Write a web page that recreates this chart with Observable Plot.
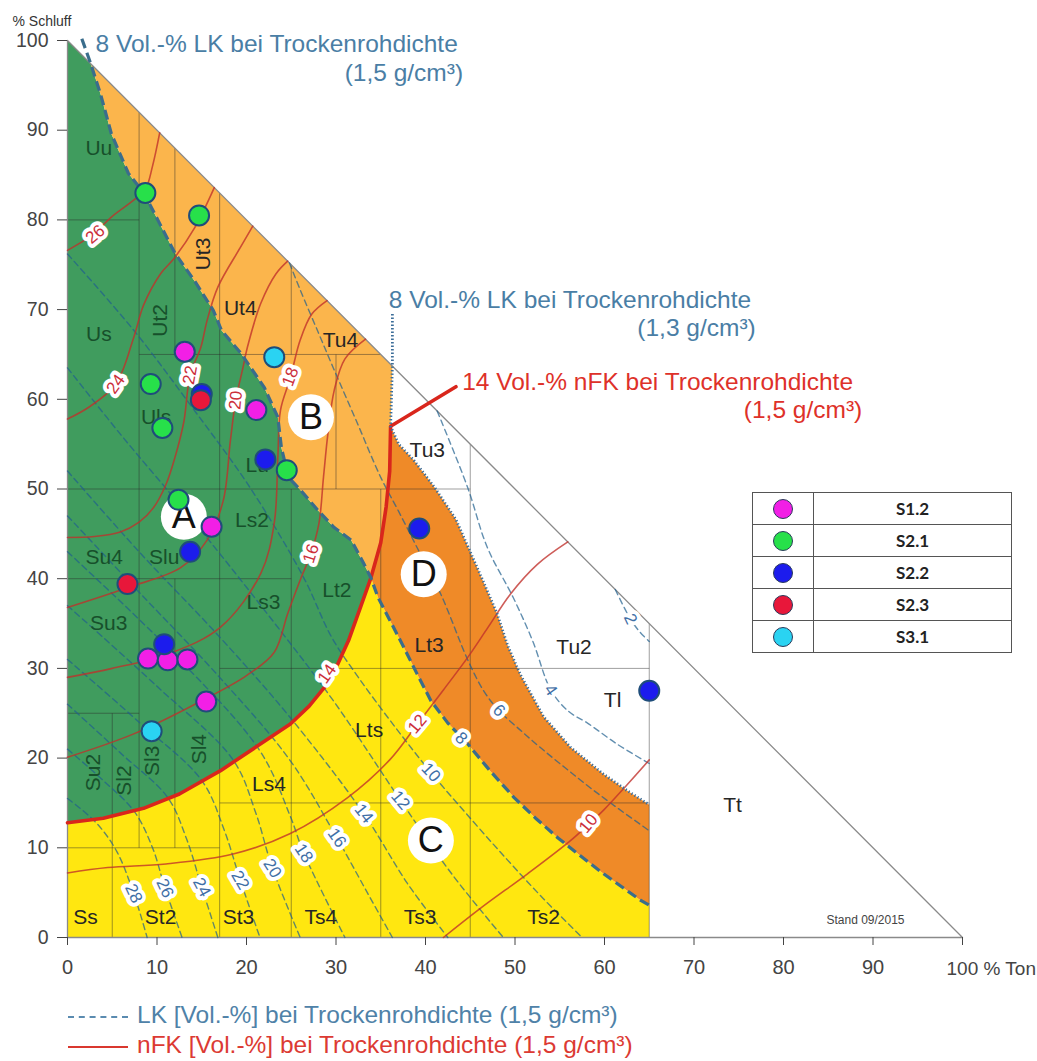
<!DOCTYPE html>
<html><head><meta charset="utf-8">
<script src="https://cdn.jsdelivr.net/npm/d3@7"></script>
<script src="https://cdn.jsdelivr.net/npm/@observablehq/plot@0.6"></script>
<style>
body{margin:0;background:#fff;font-family:"Liberation Sans",Arial,sans-serif;}
#wrap{position:relative;width:1037px;height:1061px;overflow:hidden;}
#legend{position:absolute;left:752px;top:492px;border-collapse:collapse;width:260px;background:#fff;}
#legend td{border:1px solid #555;height:31px;padding:0;}
#legend td.sw{width:60px;text-align:center;}
#legend td.lb{text-align:center;font-weight:bold;font-size:17px;font-family:Lato,"Open Sans",sans-serif;color:#222;}
.sym{display:inline-block;width:20px;height:20px;border-radius:50%;border:1px solid #2a3a5a;vertical-align:middle;box-sizing:border-box;}
#foot{padding-left:68px;font-size:24.5px;}
.row{height:30px;line-height:30px;white-space:nowrap;}
.smp{display:inline-block;width:60px;vertical-align:middle;margin-right:9px;}
</style></head><body>
<div id="wrap"><div id="chart"></div><table id="legend"></table><div id="foot"></div></div>
<script>
// ---------------- data ----------------
const xTicks = [0,10,20,30,40,50,60,70,80,90,100];
const yTicks = [0,10,20,30,40,50,60,70,80,90,100];
const triangle = [[0,0],[100,0],[0,100],[0,0]];
const cornerTopLeft = [0,100];
const cornerOrigin = [0,0];
const cornerSandTon = [65,0];
const cornerHypDotted = [36.3,63.7];

// soil texture grid (x1,y1,x2,y2) : Ton, Schluff
const gridSegments = [
  [0,10,17,10],[17,15,65,15],[0,25,8,25],[17,30,65,30],[0,40,25,40],[0,50,45,50],[8,65,35,65],[0,80,8,80],
  [5,0,5,25],[8,10,8,92],[12,10,12,40],[12,65,12,88],[17,0,17,83],[25,0,25,50],[25,65,25,75],
  [30,50,30,65],[35,0,35,50],[45,0,45,55],[65,0,65,35]
];

// boundaries
const lk8Lead = [[1.6,100.2],[2.6,97.4]];
const lk8Upper = [[2.6,97.4],[3.7,94],[4.9,89.6],[6.8,85.2],[8.6,82.9],[10.5,79.2],[12,76.3],[14.2,73.2],[16.3,69.9],[17.2,67.7],[19.4,65.1],[22,61.3],[23.5,58],[23.9,54.6],[24.7,51.3],[26.1,49.8],[28,47.6],[29.8,45.7],[31.7,44.3],[33.1,41.7],[33.9,40.1]];
const lk8Lower = [[33.9,40.1],[34.7,37.9],[36,35.4],[37.5,32.5],[39,29.5],[40.6,26.4],[42.5,23.9],[44.7,21.6],[47.2,18.6],[49.9,15.6],[52.3,13.3],[54.8,11.1],[57.3,9.1],[59.9,7.1],[62,5.6],[64.1,4.1],[65,3.6]];
const nfk14Lower = [[0,12.8],[4,13.3],[8.5,14.4],[12.5,16],[17.1,18.6],[21,21.2],[24.9,23.8],[27,25.8],[28.8,28],[30.2,30.5],[31.4,33.1],[32.8,37],[33.9,40.1]];
const nfk14Upper = [[33.9,40.1],[35,44],[35.6,48],[36,52],[36.1,57]];
const nfk14Leader = [[36.1,57],[43.4,61.4]];
const dotted13 = [[36.3,69.5],[36.3,63.7],[36.1,57],[37,55],[38.7,53.2],[41,50.2],[43.4,46.6],[46.1,40.5],[48,36.1],[49.2,32.5],[50.6,29.3],[53.2,24.6],[56.2,21.2],[59.9,18.2],[62.5,16.4],[65,14.8]];

// nFK isolines (solid)
const nfk26 = [[0,76.6],[2,77.8],[3.1,78.6],[5,80.4],[7.4,82.2],[8.7,83.4],[9.5,86],[10.3,89.7]];
const nfk24 = [[0,57.8],[2.5,59.2],[5.4,61.7],[7.4,66.9],[8.5,70.5],[10.4,74],[11.9,75.7],[14.2,79.1],[16.4,83.6]];
const nfk22 = [[0,44.6],[3,44.7],[5.9,45.2],[8,46.3],[9.6,47.9],[11,50.5],[12,53.5],[13,57.5],[13.7,62.7],[14.9,65.8],[15.6,68.8],[16.8,72.5],[19.3,76.9],[20.7,79.3]];
const nfk20 = [[0,36.8],[6.7,39],[12.6,41.2],[15.6,44.3],[17.4,48.7],[18.2,55.4],[18.8,59.9],[19.6,63.5],[20.1,65.8],[21.6,70.7],[23.3,74],[24.6,75.4]];
const nfk18 = [[0,29],[5,30],[11.5,31.7],[17.1,34.6],[21.6,40.6],[23.1,46.2],[23.5,53.5],[23.8,58.8],[24.9,62.4],[26,66.6],[27.3,69.5],[29,71]];
const nfk16 = [[0,20.1],[7.4,22.7],[15,26.4],[20,29.2],[23.1,31.8],[24.6,36.1],[26.1,40.1],[27.2,42.8],[28.1,46.2],[28.6,51.3],[29.1,56.2],[29.8,61],[31,64.5],[33.3,66.7]];
const nfk12 = [[0,7.2],[4.5,7.8],[11,8.2],[18.5,9.3],[24.9,11.6],[31.3,15.6],[36,19.8],[39.1,23.8],[42,27.6],[44.7,31.2],[47,34.6],[49.5,38.3],[52.5,41.6],[55.9,44.1]];
const nfk10 = [[42,0],[46.2,3.3],[51.4,7.1],[56.2,10.8],[58.2,12.6],[59.9,14.2],[62.5,17],[65,19.8]];

// LK isolines (dashed)
const lk28 = [[0,15.5],[3.2,12.8],[5.5,9.6],[7.4,4.9],[8.9,0]];
const lk26 = [[0,21],[4,17.5],[7.5,14],[9.5,10],[10.9,5.5],[12.8,0]];
const lk24 = [[0,26],[6,20.5],[11.2,15.6],[13.3,11],[15,5.6],[16.8,0]];
const lk22 = [[0,31],[8,24],[15,17.5],[17.5,12],[19.3,6.4],[21.5,0]];
const lk20 = [[0,37],[10,28],[18.5,19.8],[21,14],[22.9,7.7],[26,0]];
const lk18 = [[0,43],[12,31.5],[21.5,20.8],[24.9,13.5],[26.4,9.4],[31,0]];
const lk16 = [[0,47],[8,38.5],[17,29],[24.9,19.7],[30.1,11.1],[33.5,5],[36.3,0]];
const lk14 = [[0,52],[8,43],[17,33.5],[24.9,24.5],[33.1,13.8],[38,6],[42.5,0]];
const lk12 = [[0,63.5],[6,56],[14,46.5],[22,36.5],[29.7,26.4],[37.2,15.3],[43,7],[48.7,0]];
const lk10 = [[0,76.2],[7.4,67.7],[14,59],[20.5,50],[26.4,40.1],[29.5,33.5],[32.5,29],[36.5,23.6],[40.6,18.4],[45,13.3],[49.2,8.6],[53.2,4.3],[57.5,0]];
const lk6 = [[24.8,75.2],[26,72.2],[28,67.5],[29.7,63.5],[32.4,57.3],[35,51.3],[37,47.5],[39.3,43],[41.7,38.3],[44.7,31],[46.5,27.5],[48.2,25.3],[50.5,23.2],[52.8,21.2],[55.5,19],[58.4,16.7],[61.5,14.4],[65,11.9]];
const lk4 = [[41.3,58.7],[44.7,50.2],[46.9,43.5],[49.8,37.9],[52,33],[54,27.6],[56,25.2],[58.1,23.9],[61.5,21.5],[65,19.4]];
const lk2 = [[61.2,38.8],[62.9,35.5],[64,34],[65,33]];

// isoline labels
const lkLabelValues = [28,26,24,22,20,18,16,14,12,10,8,6,4,2];
const lkLabelX = [7.4,10.9,15,19.3,22.9,26.4,30.1,33.1,37.2,40.6,44,48.2,54,62.9];
const lkLabelY = [4.9,5.5,5.6,6.4,7.7,9.4,11.1,13.8,15.3,18.4,22.2,25.3,27.6,35.5];
const lkLabelRotate = [65,65,62,60,58,56,55,52,50,47,45,45,55,65];
const nfkLabelValues = [26,24,22,20,18,16,14,12,10];
const nfkLabelX = [3.1,5.4,13.7,18.8,24.9,27.2,29,39.1,58.2];
const nfkLabelY = [78.4,61.7,62.7,59.9,62.5,42.8,29.4,23.8,12.7];
const nfkLabelRotate = [-40,-55,-80,-85,-70,-72,-55,-50,-50];

// soil texture class labels
const greenClassNames = ["Uu","Us","Ut2","Uls","Lu","Ls2","Slu","Su4","Su3","Ls3","Lt2","Su2","Sl2","Sl3","Sl4"];
const greenClassX = [3.5,3.5,10.4,8.2,19.9,20.6,10.8,4.1,4.6,21.9,30.1,2.9,6.3,9.5,14.7];
const greenClassY = [88,67.3,68.8,58,52.6,46.5,42.4,42.4,35,37.4,38.7,18.4,17.5,19.7,21];
const greenClassRotate = [0,0,-90,0,0,0,0,0,0,0,0,-90,-90,-90,-90];
const greenClassAnchor = ["middle","middle","middle","start","start","middle","middle","middle","middle","middle","middle","middle","middle","middle","middle"];
const otherClassNames = ["Ut3","Ut4","Tu4","Tu3","Lt3","Tu2","Tl","Tt","Lts","Ls4","Ss","St2","St3","Ts4","Ts3","Ts2"];
const otherClassX = [15.2,19.3,30.5,40.2,40.4,56.6,60.9,74.3,33.7,22.5,2,10.4,19.1,28.3,39.4,53.2];
const otherClassY = [76.2,70.2,66.6,54.3,32.6,32.4,26.4,14.7,23.1,17.1,2.3,2.3,2.3,2.3,2.3,2.3];
const otherClassRotate = [-90,0,0,0,0,0,0,0,0,0,0,0,0,0,0,0];

// zones
const zoneNames = ["A","B","C","D"];
const zoneX = [13,27.2,40.6,39.8];
const zoneY = [46.9,58,10.8,40.5];

// samples (Ton %, Schluff %)
const sampleNames = ["S1.2","S2.1","S2.2","S2.3","S3.1"];
const sampleColors = ["#f21fe6","#27e04a","#1c1ced","#e8173a","#2ad3f2"];
const s12 = [[13.1,65.3],[21.1,58.8],[16.1,45.8],[9,31.1],[11.2,30.9],[13.4,31],[15.5,26.3]];
const s21 = [[8.7,83],[14.7,80.5],[9.3,61.7],[10.6,56.8],[12.4,48.8],[24.5,52.1]];
const s22 = [[15,60.6],[22.1,53.3],[13.7,43],[10.8,32.7],[39.3,45.6],[65,27.5]];
const s23 = [[14.9,59.9],[6.7,39.4]];
const s31 = [[23.1,64.7],[9.4,23]];

// ---------------- build ----------------
const rev = a => a.slice().reverse();
const polyA = [cornerTopLeft, ...lk8Upper, ...rev(nfk14Lower).slice(1)];
const polyB = [...lk8Upper, ...nfk14Upper.slice(1), cornerHypDotted];
const polyC = [cornerOrigin, ...nfk14Lower, ...lk8Lower.slice(1), cornerSandTon];
const dottedLower = dotted13.slice(2);
const polyD = [...rev(nfk14Upper), ...lk8Lower.slice(1), ...rev(dottedLower)];

const flatLines = list => list.flatMap(([v, pts]) => pts.map(p => ({v, x: p[0], y: p[1]})));
const lkThin = flatLines([[28,lk28],[26,lk26],[24,lk24],[22,lk22],[20,lk20],[18,lk18],[16,lk16],[14,lk14],[12,lk12],[10,lk10],[6,lk6],[4,lk4],[2,lk2]]);
const nfkThin = flatLines([[26,nfk26],[24,nfk24],[22,nfk22],[20,nfk20],[18,nfk18],[16,nfk16],[12,nfk12],[10,nfk10]]);
const lkLabels = lkLabelValues.map((v,i)=>({t:String(v), x:lkLabelX[i], y:lkLabelY[i], r:lkLabelRotate[i]}));
const nfkLabels = nfkLabelValues.map((v,i)=>({t:String(v), x:nfkLabelX[i], y:nfkLabelY[i], r:nfkLabelRotate[i]}));
const greenLabels = greenClassNames.map((t,i)=>({t, x:greenClassX[i], y:greenClassY[i], r:greenClassRotate[i], a:greenClassAnchor[i]}));
const otherLabels = otherClassNames.map((t,i)=>({t, x:otherClassX[i], y:otherClassY[i], r:otherClassRotate[i]}));
const zones = zoneNames.map((t,i)=>({t, x:zoneX[i], y:zoneY[i]}));
const samples = [[sampleNames[0],s12],[sampleNames[1],s21],[sampleNames[2],s22],[sampleNames[3],s23],[sampleNames[4],s31]]
  .flatMap(([s,pts]) => pts.map(p => ({s, x:p[0], y:p[1]})));

const px = d => d[0], py = d => d[1];
const poly = (pts, color) => Plot.line(pts, {x: px, y: py, fill: color, stroke: "none"});
const greenText = a => Plot.text(greenLabels.filter(d=>d.a===a), {x:"x", y:"y", text:"t", rotate:"r", textAnchor:a, fill:"#17502b", fontSize:21});
const note = (t, x, y, anchor, color) => Plot.text([t], {x, y, text:d=>d, textAnchor:anchor, fontSize:24.5, fill:color});

const chart = Plot.plot({
  width: 1037, height: 1000,
  marginLeft: 67, marginRight: 75, marginTop: 40, marginBottom: 63,
  x: {domain: [0,100]}, y: {domain: [0,100]},
  color: {domain: sampleNames, range: sampleColors},
  style: {fontFamily: "'Liberation Sans', Arial, sans-serif", background: "#fff"},
  marks: [
    poly(polyA, "#409c5e"),
    poly(polyB, "#fbb54c"),
    poly(polyC, "#ffe710"),
    poly(polyD, "#ef8a28"),
    Plot.link(gridSegments, {x1: d=>d[0], y1: d=>d[1], x2: d=>d[2], y2: d=>d[3], stroke: "#2b2b2b", strokeOpacity: 0.45, strokeWidth: 1}),
    Plot.line(triangle, {x: px, y: py, stroke: "#8a8a8a", strokeWidth: 1.3}),
    Plot.line(lkThin, {x:"x", y:"y", z:"v", curve:"catmull-rom", stroke:"#1f5f8f", strokeOpacity:0.7, strokeWidth:1.4, strokeDasharray:"6,4"}),
    Plot.line(nfkThin, {x:"x", y:"y", z:"v", curve:"catmull-rom", stroke:"#c0302a", strokeOpacity:0.78, strokeWidth:1.6}),
    Plot.line(nfk14Lower.concat(nfk14Upper.slice(1), nfk14Leader.slice(1)), {x: px, y: py, stroke:"#d9261c", strokeWidth:3.6, strokeLinejoin:"round"}),
    Plot.line(lk8Lead.concat(lk8Upper.slice(1), lk8Lower.slice(1)), {x: px, y: py, stroke:"#3a6d8c", strokeWidth:3.2, strokeDasharray:"10,5", strokeLinecap:"butt"}),
    Plot.line(dotted13, {x: px, y: py, stroke:"#3d6e99", strokeWidth:2.8, strokeDasharray:"1.3,2.2", strokeLinecap:"butt"}),
    Plot.axisY({ticks: yTicks, tickSize: 10, tickPadding: 9, fontSize: 19.5, color: "#444", label: null}),
    Plot.axisX({ticks: xTicks, tickSize: 8, tickPadding: 14, fontSize: 20, color: "#444", label: null, tickFormat: d => d === 100 ? "" : String(d)}),
    Plot.text(["100 % Ton"], {x: 100, y: 0, text: d=>d, textAnchor:"start", dx:-16, dy:31, fontSize:19, fill:"#444"}),
    Plot.text(["% Schluff"], {frameAnchor:"top-left", text: d=>d, textAnchor:"start", dx:-55, dy:-24, fontSize:14, fill:"#333"}),
    greenText("middle"), greenText("start"),
    Plot.text(otherLabels, {x:"x", y:"y", text:"t", rotate:"r", fill:"#262626", fontSize:21}),
    Plot.text(lkLabels, {x:"x", y:"y", text:"t", rotate:"r", fill:"#3f6fa6", stroke:"white", strokeWidth:8, fontSize:17}),
    Plot.text(nfkLabels, {x:"x", y:"y", text:"t", rotate:"r", fill:"#cc2f3a", stroke:"white", strokeWidth:8, fontSize:17}),
    Plot.dot(zones, {x:"x", y:"y", r:23, fill:"white", stroke:"none"}),
    Plot.text(zones, {x:"x", y:"y", text:"t", fontSize:36, fill:"#111"}),
    Plot.dot(samples, {x:"x", y:"y", r:10, fill:"s", stroke:"#1f4d7a", strokeWidth:2}),
    note("8 Vol.-% LK bei Trockenrohdichte", 3.13, 99.6, "start", "#4a7ea5"),
    note("(1,5 g/cm³)", 44.2, 96.4, "end", "#4a7ea5"),
    note("8 Vol.-% LK bei Trockenrohdichte", 35.9, 71.0, "start", "#4a7ea5"),
    note("(1,3 g/cm³)", 76.9, 67.9, "end", "#4a7ea5"),
    note("14 Vol.-% nFK bei Trockenrohdichte", 44.1, 61.9, "start", "#de3129"),
    note("(1,5 g/cm³)", 88.8, 58.8, "end", "#de3129"),
    Plot.text(["Stand 09/2015"], {x:84.8, y:1.9, text:d=>d, textAnchor:"start", fontSize:12, fill:"#444"})
  ]
});
document.getElementById("chart").appendChild(chart);

// legend table
const tbl = document.getElementById("legend");
sampleNames.forEach((n,i) => {
  const tr = document.createElement("tr");
  const td1 = document.createElement("td"); td1.className = "sw";
  const s = document.createElement("span"); s.className = "sym"; s.style.background = sampleColors[i];
  td1.appendChild(s);
  const td2 = document.createElement("td"); td2.className = "lb"; td2.textContent = n;
  tr.appendChild(td1); tr.appendChild(td2); tbl.appendChild(tr);
});

// footer legend
const foot = document.getElementById("foot");
const footItems = [
  {text: "LK [Vol.-%] bei Trockenrohdichte (1,5 g/cm³)", color: "#4f82a8", border: "2px dashed #5a8bb0"},
  {text: "nFK [Vol.-%] bei Trockenrohdichte (1,5 g/cm³)", color: "#dc3a33", border: "2.5px solid #d9382f"}
];
footItems.forEach(f => {
  const row = document.createElement("div"); row.className = "row";
  const smp = document.createElement("span"); smp.className = "smp"; smp.style.borderTop = f.border;
  const t = document.createElement("span"); t.textContent = f.text; t.style.color = f.color;
  row.appendChild(smp); row.appendChild(t); foot.appendChild(row);
});
</script>
</body></html>
